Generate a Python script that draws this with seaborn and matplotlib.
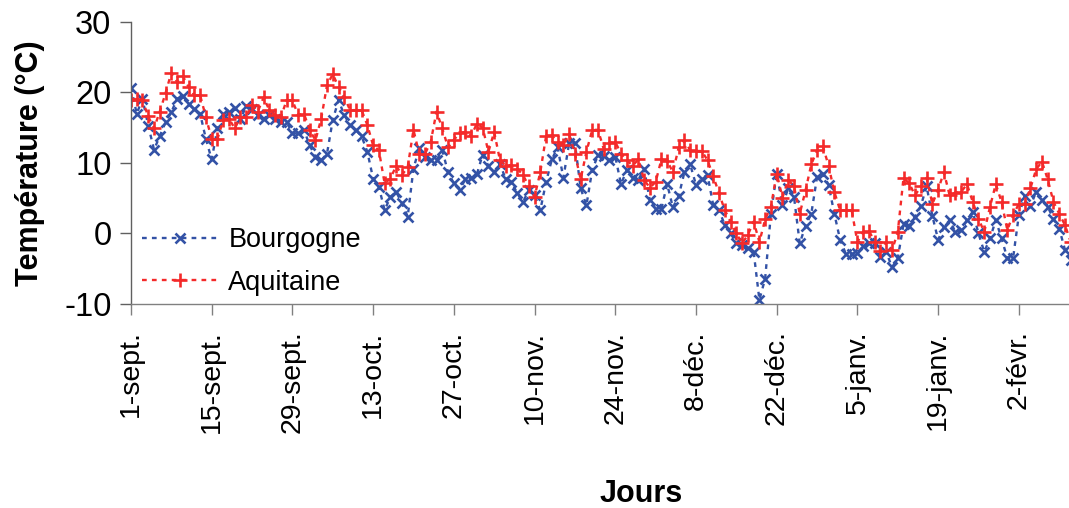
import numpy as np
import pandas as pd
import matplotlib
matplotlib.use("Agg")
import matplotlib.pyplot as plt
import seaborn as sns

# ---- data ----
tick_labels = ["1-sept.", "15-sept.", "29-sept.", "13-oct.", "27-oct.", "10-nov.",
               "24-nov.", "8-déc.", "22-déc.", "5-janv.", "19-janv.", "2-févr."]

bourgogne = [20.7, 17.0, 19.1, 15.3, 11.9, 13.8, 15.8, 17.2, 19.1, 19.5,
             18.4, 17.6, 17.0, 13.4, 10.5, 14.9, 17.0, 17.3, 17.8, 16.2,
             18.1, 17.7, 16.8, 16.3, 16.8, 16.3, 15.8, 15.8, 14.2, 14.2,
             14.7, 12.5, 10.9, 10.4, 11.3, 16.1, 18.9, 16.8, 15.4, 14.7,
             13.8, 11.6, 7.8, 6.6, 3.3, 5.2, 5.9, 4.3, 2.4, 9.2,
             12.1, 10.9, 10.4, 10.4, 11.8, 8.7, 7.1, 6.2, 7.7, 7.9,
             8.4, 11.2, 9.6, 8.7, 9.9, 7.7, 7.3, 5.7, 4.5, 6.1,
             5.4, 3.3, 7.3, 10.5, 12.2, 7.9, 12.8, 12.8, 6.4, 4.0,
             9.0, 11.1, 11.0, 10.4, 10.9, 7.0, 9.0, 7.9, 7.6, 9.2,
             4.7, 3.5, 3.5, 7.0, 3.7, 5.3, 8.7, 9.8, 6.9, 7.8,
             8.3, 4.0, 3.3, 1.2, 0.0, -1.3, -1.7, -2.1, -2.6, -9.4,
             -6.4, 2.8, 8.5, 4.0, 6.4, 5.2, -1.4, 1.1, 2.8, 8.0,
             8.5, 6.9, 2.8, -0.9, -2.9, -2.9, -2.8, -1.8, -1.4, -1.3,
             -3.4, -2.6, -4.8, -3.5, 1.3, 1.1, 2.4, 3.9, 6.7, 2.5,
             -0.9, 0.9, 1.9, 0.2, 0.5, 1.9, 3.1, 0.0, -2.6, -0.7,
             1.9, -0.7, -3.5, -3.5, 2.6, 5.3, 3.9, 5.9, 4.8, 3.8,
             2.1, 0.7, -2.3, -3.8]

aquitaine = [19.0, 19.1, 18.9, 16.6, 14.9, 17.3, 19.9, 22.8, 21.5, 22.3,
             20.8, 19.6, 19.6, 16.5, 13.4, 13.4, 16.1, 16.3, 14.9, 16.5,
             16.5, 18.2, 17.3, 19.3, 17.5, 16.8, 16.5, 18.9, 18.9, 16.8,
             17.0, 14.7, 13.2, 16.3, 21.0, 22.6, 20.8, 19.4, 17.5, 17.5,
             17.5, 15.4, 12.5, 11.8, 7.1, 7.8, 9.6, 8.3, 9.4, 14.7,
             11.3, 11.3, 13.0, 17.3, 14.9, 12.2, 13.3, 14.2, 14.4, 13.8,
             15.6, 15.0, 11.6, 14.4, 10.4, 9.6, 9.7, 9.2, 8.3, 6.7,
             5.2, 8.7, 13.8, 13.9, 13.0, 12.5, 14.1, 11.3, 7.7, 11.6,
             14.7, 14.7, 12.0, 12.8, 13.0, 11.3, 10.4, 9.6, 10.5, 7.6,
             6.5, 7.3, 10.5, 10.3, 8.7, 12.2, 13.2, 11.8, 11.7, 11.7,
             10.4, 8.1, 5.7, 3.3, 1.7, 0.0, -1.4, -0.2, 1.7, -1.2,
             2.0, 3.8, 8.5, 5.1, 7.6, 6.7, 2.8, 6.1, 9.8, 11.8,
             12.4, 9.6, 5.9, 3.3, 3.3, 3.3, -1.2, 0.2, 0.4, -1.2,
             -2.5, -1.2, -2.4, 0.2, 7.9, 7.1, 5.4, 6.7, 7.9, 4.2,
             6.2, 8.7, 5.4, 5.8, 5.9, 7.0, 4.5, 2.1, 0.2, 3.8,
             7.0, 4.5, 0.5, 2.6, 4.2, 4.2, 6.4, 9.1, 10.2, 7.7,
             4.5, 2.8, 1.2, -1.2]

days = np.arange(len(bourgogne))
tick_pos = np.arange(len(tick_labels)) * 14

df = pd.DataFrame({"Jour": days, "Bourgogne": bourgogne, "Aquitaine": aquitaine})

# ---- style ----
sns.set_style("white")
plt.rcParams["font.family"] = ["Liberation Sans", "DejaVu Sans"]
plt.rcParams["axes.unicode_minus"] = False
plt.rcParams["text.color"] = "black"
plt.rcParams["xtick.labelcolor"] = "black"
plt.rcParams["ytick.labelcolor"] = "black"

blue = "#3352A6"
red = "#F42A2A"

fig = plt.figure(figsize=(10.69, 5.08), dpi=100)
ax = fig.add_axes([0.1225, 0.4016, 0.8775, 0.5551])

sns.lineplot(data=df, x="Jour", y="Bourgogne", ax=ax, color=blue, marker="x",
             markersize=7.5, markeredgewidth=1.9, markeredgecolor=blue,
             linestyle=(0, (2, 2.2)), linewidth=1.7, label="Bourgogne")
sns.lineplot(data=df, x="Jour", y="Aquitaine", ax=ax, color=red, marker="+",
             markersize=9.5, markeredgewidth=1.9, markeredgecolor=red,
             linestyle=(0, (2, 2.2)), linewidth=1.7, label="Aquitaine")

ax.set_xlim(0, 162.7)
ax.set_ylim(-10, 30)
ax.set_yticks([-10, 0, 10, 20, 30])
ax.set_xticks(tick_pos)
ax.set_xticklabels(tick_labels, rotation=90, fontsize=20.5)
ax.tick_params(axis="y", labelsize=23.5, direction="out", length=8, width=1,
               color="#606060", pad=6, left=True, labelcolor="black")
ax.tick_params(axis="x", direction="out", length=8, width=1, color="#808080",
               pad=11, bottom=True, labelcolor="black")

for s in ["top", "right"]:
    ax.spines[s].set_visible(False)
ax.spines["left"].set_color("#606060")
ax.spines["bottom"].set_color("#808080")
ax.spines["left"].set_linewidth(1)
ax.spines["bottom"].set_linewidth(1)

ax.set_xlabel("Jours", fontsize=22, fontweight="bold", color="black", va="center")
ax.set_ylabel("Température (°C)", fontsize=22, fontweight="bold", color="black", va="center")
ax.xaxis.set_label_coords(0.5435, -0.675)
ax.yaxis.set_label_coords(-0.1077, 0.5)

leg = ax.legend(loc="lower left", bbox_to_anchor=(0.0, -0.01), frameon=False,
                fontsize=19.5, handlelength=2.85, handletextpad=0.35,
                labelspacing=0.62, borderaxespad=0.0)

fig.savefig("out.png", dpi=100)
